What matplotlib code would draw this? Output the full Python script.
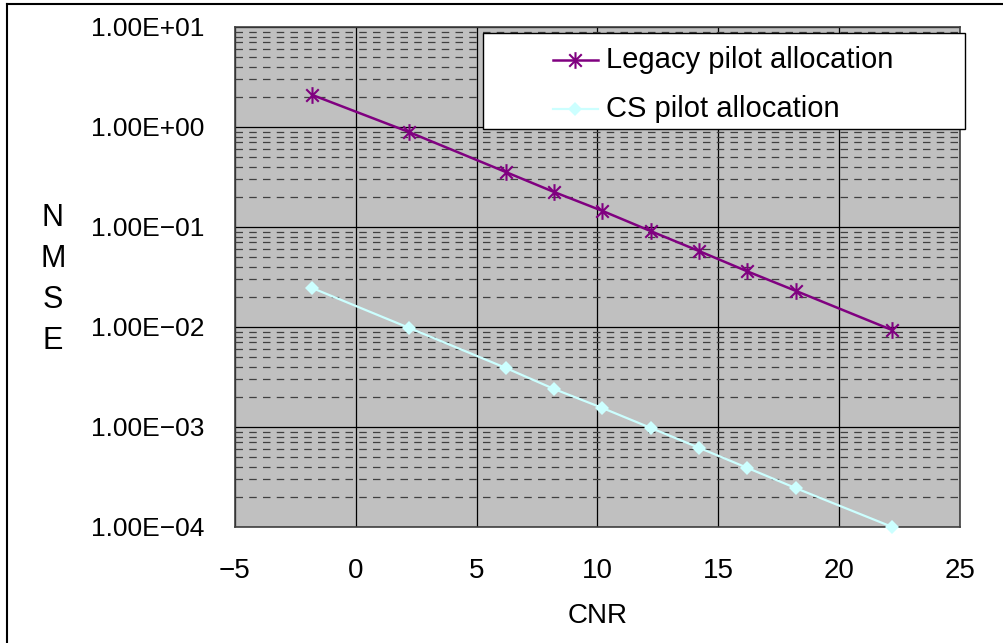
import matplotlib
matplotlib.use("Agg")
import matplotlib.pyplot as plt
from matplotlib.ticker import LogLocator, FixedLocator, FuncFormatter
from matplotlib.patches import Rectangle
from matplotlib.lines import Line2D
from matplotlib.path import Path

plt.rcParams['font.family'] = ['Liberation Sans', 'DejaVu Sans']

cnr = [-1.8, 2.2, 6.2, 8.2, 10.2, 12.2, 14.2, 16.2, 18.2, 22.2]
legacy = [2.09, 0.89, 0.355, 0.224, 0.145, 0.091, 0.0575, 0.036, 0.023, 0.0093]
cs = [0.0245, 0.0098, 0.0039, 0.0024, 0.00155, 0.00098, 0.00062, 0.00039, 0.000245, 0.0001]
xticks = [-5, 0, 5, 10, 15, 20, 25]
series_names = ["Legacy pilot allocation", "CS pilot allocation"]

star = Path([(0, -1), (0, 1), (-0.75, -0.75), (0.75, 0.75), (-0.75, 0.75), (0.75, -0.75)],
            [Path.MOVETO, Path.LINETO, Path.MOVETO, Path.LINETO, Path.MOVETO, Path.LINETO])

W, H = 1004, 643
fig = plt.figure(figsize=(W/100, H/100), dpi=100)
ax = fig.add_axes([235/W, 1-527/H, (960-235)/W, (527-27)/H])
ax.set_facecolor('#c0c0c0')
ax.set_yscale('log')
ax.set_xlim(-5, 25)
ax.set_ylim(1e-4, 1e1)

ax.xaxis.set_major_locator(FixedLocator(xticks))
ax.yaxis.set_major_locator(LogLocator(base=10, numticks=10))
ax.yaxis.set_minor_locator(LogLocator(base=10, subs=range(2, 10), numticks=20))

def fmt(v, pos):
    s = "%.2E" % v
    return s.replace('-', '\u2212')
ax.yaxis.set_major_formatter(FuncFormatter(fmt))
ax.yaxis.set_minor_formatter(FuncFormatter(lambda v, p: ''))

ax.grid(True, which='major', axis='both', color='black', linewidth=0.9, linestyle='-')
ax.grid(True, which='minor', axis='y', color='#404040', linewidth=0.9, linestyle=(0, (6, 5)))
ax.set_axisbelow(True)

ax.tick_params(axis='y', which='both', length=0, labelsize=19, colors='black', pad=22)
ax.tick_params(axis='x', which='both', length=0, labelsize=20, colors='black', pad=22)
for s in ax.spines.values():
    s.set_color('#404040')
    s.set_linewidth(1.2)

ax.plot(cnr, legacy, color='#800080', marker=star, markersize=12,
        markeredgewidth=1.5, linewidth=1.8, clip_on=False, zorder=5)
ax.plot(cnr, cs, color='#ccffff', marker='D', markersize=7,
        markeredgewidth=0, linewidth=1.6, clip_on=False, zorder=5)

ax.set_xlabel("CNR", fontsize=20, labelpad=14)
for i, ch in enumerate("NMSE"):
    fig.text(53/W, 1-(218 + 41*i)/H, ch, fontsize=22, ha='center', va='center')

# Legend box
lx0, ly0, lx1, ly1 = 483, 33, 965, 129
fig.patches.append(Rectangle((lx0/W, 1-ly1/H), (lx1-lx0)/W, (ly1-ly0)/H,
                             transform=fig.transFigure, facecolor='white',
                             edgecolor='black', linewidth=1.0, zorder=10))
fig.lines.append(Line2D([553/W, 598/W], [1-60/H, 1-60/H], transform=fig.transFigure,
                        color='#800080', linewidth=1.8, zorder=11))
fig.lines.append(Line2D([575/W], [1-60/H], transform=fig.transFigure,
                        color='#800080', marker=star, markersize=12,
                        markeredgewidth=1.5, linestyle='none', zorder=11))
fig.lines.append(Line2D([553/W, 598/W], [1-109/H, 1-109/H], transform=fig.transFigure,
                        color='#ccffff', linewidth=1.6, zorder=11))
fig.lines.append(Line2D([575/W], [1-109/H], transform=fig.transFigure,
                        color='#ccffff', marker='D', markersize=7, markeredgewidth=0,
                        linestyle='none', zorder=11))
fig.text(606/W, 1-60/H, series_names[0], fontsize=21, va='center', ha='left', zorder=12)
fig.text(606/W, 1-109/H, series_names[1], fontsize=21, va='center', ha='left', zorder=12)

# Outer frame (left and top edges visible)
fig.lines.append(Line2D([7/W, 7/W], [0, 1-4/H], transform=fig.transFigure, color='black', linewidth=1.5))
fig.lines.append(Line2D([7/W, 1], [1-4/H, 1-4/H], transform=fig.transFigure, color='black', linewidth=1.5))

fig.savefig("out.png", dpi=100, facecolor='white')
